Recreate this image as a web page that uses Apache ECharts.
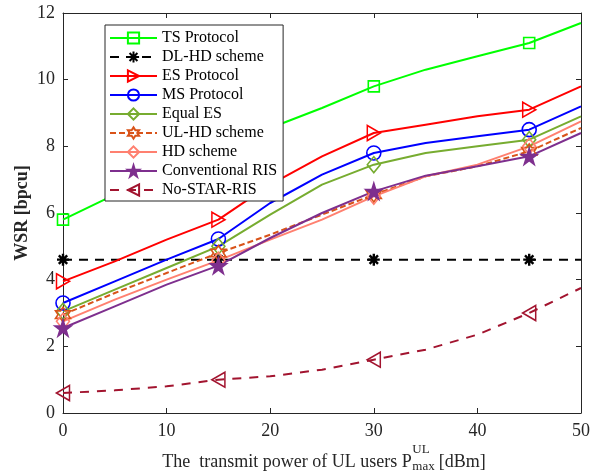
<!DOCTYPE html>
<html>
<head>
<meta charset="utf-8">
<script src="https://cdn.jsdelivr.net/npm/echarts@6/dist/echarts.min.js"></script>
<style>html,body{margin:0;padding:0;background:#fff;}#chart{width:598px;height:474px;}</style>
</head>
<body>
<div id="chart"></div>
<script>
// ---- data ----
const xValues = [0, 5, 10, 15, 20, 25, 30, 35, 40, 45, 50];
const tsProtocol = [5.8, 6.55, 7.25, 7.9, 8.55, 9.15, 9.8, 10.3, 10.7, 11.1, 11.7];
const dlHdScheme = [4.6, 4.6, 4.6, 4.6, 4.6, 4.6, 4.6, 4.6, 4.6, 4.6, 4.6];
const esProtocol = [3.95, 4.55, 5.2, 5.8, 6.85, 7.7, 8.4, 8.65, 8.9, 9.1, 9.8];
const msProtocol = [3.3, 3.95, 4.6, 5.22, 6.3, 7.15, 7.8, 8.1, 8.3, 8.5, 9.2];
const equalEs = [3.05, 3.7, 4.35, 5.0, 5.95, 6.85, 7.45, 7.8, 8.0, 8.2, 8.9];
const ulHdScheme = [2.95, 3.6, 4.2, 4.8, 5.35, 5.95, 6.55, 7.1, 7.4, 7.85, 8.55];
const hdScheme = [2.75, 3.4, 4.0, 4.58, 5.2, 5.8, 6.5, 7.1, 7.45, 8.0, 8.75];
const conventionalRis = [2.55, 3.2, 3.85, 4.42, 5.25, 6.0, 6.65, 7.12, 7.4, 7.7, 8.4];
const noStarRis = [0.6, 0.68, 0.8, 1.0, 1.1, 1.3, 1.6, 1.9, 2.35, 3.0, 3.75];
const xTicks = [0, 10, 20, 30, 40, 50];
const yTicks = [0, 2, 4, 6, 8, 10, 12];

// ---- symbols ----
function starPath(n, rOuter, rInner) {
  let d = '';
  for (let i = 0; i < 2 * n; i++) {
    const r = i % 2 === 0 ? rOuter : rInner;
    const a = -Math.PI / 2 + i * Math.PI / n;
    const x = (r * Math.cos(a)).toFixed(3), y = (r * Math.sin(a)).toFixed(3);
    d += (i === 0 ? 'M' : 'L') + x + ' ' + y + ' ';
  }
  return 'path://' + d + 'Z';
}
const SYM = {
  pent: starPath(5, 10, 3.82),
  hexa: starPath(6, 10, 5.77),
  triR: 'path://M0 0 L17 10 L0 20 Z',
  triL: 'path://M17 0 L0 10 L17 20 Z',
  aster: 'path://M10 0 L10 20 M0 10 L20 10 M3 3 L17 17 M3 17 L17 3'
};

const FONT = 'Liberation Serif, Times New Roman, serif';

function mk(name, values, color, symbol, size, opts) {
  opts = opts || {};
  return {
    name: name,
    type: 'line',
    xAxisIndex: 0, yAxisIndex: 0,
    data: xValues.map((x, i) => [x, values[i]]),
    color: color,
    symbol: symbol,
    symbolSize: function (v, p) { return p.dataIndex % 3 === 0 ? size : 0; },
    showAllSymbol: true,
    lineStyle: { color: color, width: 2, type: opts.dash || 'solid' },
    itemStyle: { color: opts.fill || 'rgba(255,255,255,0)', borderColor: color, borderWidth: opts.bw || 1.6 },
    emphasis: { disabled: true },
    z: opts.z || 2
  };
}

const series = [
  mk('TS Protocol', tsProtocol, '#00ff00', 'rect', 11),
  mk('DL-HD scheme', dlHdScheme, '#000000', SYM.aster, 12, { dash: [9, 7], bw: 2.4 }),
  mk('ES Protocol', esProtocol, '#ff0000', SYM.triR, [13, 15]),
  mk('MS Protocol', msProtocol, '#0000ff', 'circle', 14),
  mk('Equal ES', equalEs, '#77ac30', 'diamond', [13, 16]),
  mk('UL-HD scheme', ulHdScheme, '#d95319', SYM.hexa, 15, { dash: [6, 3] }),
  mk('HD scheme', hdScheme, '#ff8070', 'diamond', [13, 16]),
  mk('Conventional RIS', conventionalRis, '#7e2f8e', SYM.pent, 16, { fill: '#7e2f8e' }),
  mk('No-STAR-RIS', noStarRis, '#a2142f', SYM.triL, [13, 15], { dash: [9, 8] })
];

const chart = echarts.init(document.getElementById('chart'), null, { renderer: 'canvas' });

const axisCommon = {
  type: 'value',
  axisLine: { show: true, onZero: false, lineStyle: { color: '#262626', width: 1 } },
  axisTick: { show: true, inside: true, length: 5, lineStyle: { color: '#262626' } },
  splitLine: { show: false }
};

// measure text for x-axis label with sup/sub
const cv = document.createElement('canvas').getContext('2d');
function tw(t, size) { cv.font = size + 'px ' + FONT; return cv.measureText(t).width; }
const mainTxt = 'The  transmit power of UL users P';
const supTxt = 'UL', subTxt = 'max', endTxt = ' [dBm]';
const mainSize = 18, smallSize = 13;
const w1 = tw(mainTxt, mainSize), wsup = tw(supTxt, smallSize), wsub = tw(subTxt, smallSize), w3 = tw(endTxt, mainSize);
const wmid = Math.max(wsup, wsub);
const totalW = w1 + wmid + w3;
const cx = 324;
const x0 = cx - totalW / 2;

chart.setOption({
  animation: false,
  backgroundColor: '#ffffff',
  grid: { left: 63, right: 17, top: 13, bottom: 61, containLabel: false },
  xAxis: [
    Object.assign({}, axisCommon, {
      min: 0, max: 50, interval: 10, position: 'bottom',
      axisLabel: { show: true, fontSize: 18, fontFamily: FONT, color: '#262626', margin: 9,
        formatter: v => xTicks.indexOf(v) >= 0 ? String(v) : '' }
    }),
    Object.assign({}, axisCommon, {
      min: 0, max: 50, interval: 10, position: 'top', axisLabel: { show: false }
    })
  ],
  yAxis: [
    Object.assign({}, axisCommon, {
      min: 0, max: 12, interval: 2, position: 'left',
      name: 'WSR [bpcu]', nameLocation: 'middle', nameGap: 32, nameRotate: 90,
      nameMoveOverlap: false,
      nameTextStyle: { fontSize: 18, fontWeight: 'bold', fontFamily: FONT, color: '#262626' },
      axisLabel: { show: true, fontSize: 18, fontFamily: FONT, color: '#262626', margin: 8,
        formatter: v => yTicks.indexOf(v) >= 0 ? String(v) : '' }
    }),
    Object.assign({}, axisCommon, {
      min: 0, max: 12, interval: 2, position: 'right', axisLabel: { show: false }
    })
  ],
  legend: {
    orient: 'vertical',
    left: 105, top: 25,
    itemWidth: 47, itemHeight: 14, itemGap: 3,
    padding: [5, 6, 3, 4],
    backgroundColor: '#ffffff',
    borderColor: '#262626', borderWidth: 1,
    textStyle: { fontSize: 16, fontFamily: FONT, color: '#000000' },
    data: series.map(s => s.name),
    z: 10
  },
  graphic: [
    { type: 'text', x: x0, y: 462, style: { text: mainTxt, font: mainSize + 'px ' + FONT, fill: '#262626', verticalAlign: 'middle', align: 'left' } },
    { type: 'text', x: x0 + w1 + 0.5, y: 450, style: { text: supTxt, font: smallSize + 'px ' + FONT, fill: '#262626', verticalAlign: 'middle', align: 'left' } },
    { type: 'text', x: x0 + w1 + 0.5, y: 467, style: { text: subTxt, font: smallSize + 'px ' + FONT, fill: '#262626', verticalAlign: 'middle', align: 'left' } },
    { type: 'text', x: x0 + w1 + wmid, y: 462, style: { text: endTxt, font: mainSize + 'px ' + FONT, fill: '#262626', verticalAlign: 'middle', align: 'left' } }
  ],
  series: series
});
</script>
</body>
</html>
